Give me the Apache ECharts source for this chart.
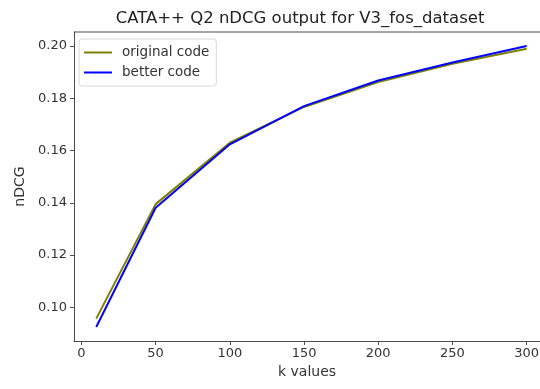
<!DOCTYPE html>
<html>
<head>
<meta charset="utf-8">
<script src="https://cdn.jsdelivr.net/npm/echarts@6/dist/echarts.min.js"></script>
<style>
  html, body { margin: 0; padding: 0; background: #fff; overflow: hidden; }
  #chart { width: 540px; height: 389px; }
</style>
</head>
<body>
<div id="chart"></div>
<script>
// k values on the x axis
const kValues = [10, 50, 100, 150, 200, 250, 300];
// nDCG per k for each implementation
const originalCode = [0.0957, 0.1395, 0.1630, 0.1767, 0.1862, 0.1932, 0.1990];
const betterCode   = [0.0925, 0.1381, 0.1624, 0.1770, 0.1868, 0.1937, 0.2000];
// tick labels
const xTicks = [0, 50, 100, 150, 200, 250, 300];
const yTicks = [0.10, 0.12, 0.14, 0.16, 0.18, 0.20];

const axisColor = '#4d4d4d';
const textColor = '#333';
const font = 'DejaVu Sans';

const pairs = (ys) => kValues.map((k, i) => [k, ys[i]]);

const chart = echarts.init(document.getElementById('chart'), null, { renderer: 'canvas' });
chart.setOption({
  animation: false,
  backgroundColor: '#fff',
  textStyle: { fontFamily: font },
  title: {
    text: 'CATA++ Q2 nDCG output for V3_fos_dataset',
    left: 295, top: 5, textAlign: 'center',
    textStyle: { fontFamily: font, fontSize: 16.5, fontWeight: 'normal', color: '#222' }
  },
  // the visible part of the axes box stops at the canvas edge
  grid: { left: 74, right: 0, top: 32, bottom: 48, containLabel: false, outerBoundsMode: 'none' },
  legend: {
    orient: 'vertical', left: 79, top: 39,
    padding: [6, 7, 6, 5], itemGap: 5, itemWidth: 28, itemHeight: 2,
    icon: 'rect',
    backgroundColor: '#fff', borderColor: '#d8d8d8', borderWidth: 1, borderRadius: 3,
    textStyle: { fontFamily: font, fontSize: 13.5, color: textColor, padding: [0, 0, 0, 5], lineHeight: 15 },
    data: ['original code', 'better code']
  },
  xAxis: {
    type: 'value', min: -5, max: 309,
    name: 'k values', nameLocation: 'middle', nameGap: 23,
    nameTextStyle: { fontFamily: font, fontSize: 14, color: textColor },
    axisLine: { show: true, onZero: false, lineStyle: { color: axisColor, width: 1 } },
    axisTick: { show: true, inside: false, length: 4, customValues: xTicks, lineStyle: { color: axisColor } },
    axisLabel: { customValues: xTicks, fontFamily: font, fontSize: 13, color: textColor, margin: 6 },
    splitLine: { show: false }
  },
  yAxis: {
    type: 'value', min: 0.087125, max: 0.205375,
    name: 'nDCG', nameLocation: 'middle', nameGap: 42, nameRotate: 90,
    nameTextStyle: { fontFamily: font, fontSize: 14, color: textColor },
    axisLine: { show: true, onZero: false, lineStyle: { color: axisColor, width: 1 } },
    axisTick: { show: true, inside: false, length: 4, customValues: yTicks, lineStyle: { color: axisColor } },
    axisLabel: {
      customValues: yTicks, fontFamily: font, fontSize: 13, color: textColor, margin: 7,
      formatter: (v) => v.toFixed(2)
    },
    splitLine: { show: false }
  },
  series: [
    {
      name: 'original code', type: 'line', data: pairs(originalCode),
      symbol: 'none', color: '#808000',
      lineStyle: { color: '#808000', width: 2 }
    },
    {
      name: 'better code', type: 'line', data: pairs(betterCode),
      symbol: 'none', color: '#0000ff',
      lineStyle: { color: '#0000ff', width: 2 }
    }
  ],
  // top spine of the axes frame
  graphic: [{
    type: 'line', shape: { x1: 74, y1: 32, x2: 540, y2: 32 },
    style: { stroke: axisColor, lineWidth: 1 }, silent: true
  }]
});
</script>
</body>
</html>
